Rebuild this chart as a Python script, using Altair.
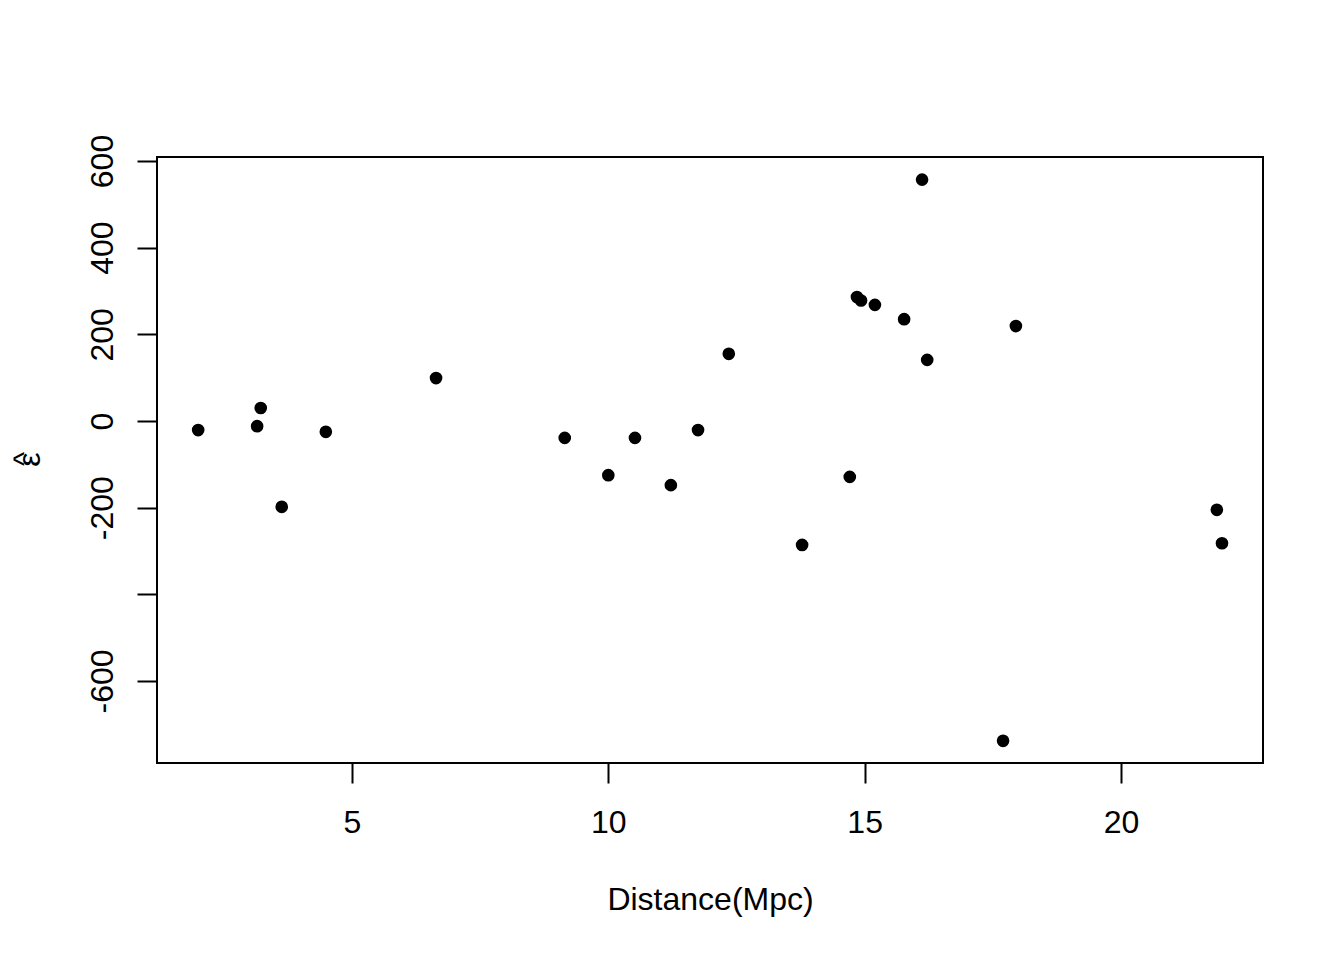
import altair as alt
import pandas as pd

distance = [2.00, 3.15, 3.22, 3.63, 4.49, 6.64, 9.15, 10.00, 10.52, 11.22, 11.75, 12.35,
            13.78, 14.71, 14.85, 14.93, 15.20, 15.77, 16.12, 16.22, 17.70, 17.95, 21.87, 21.97]
residual = [-21, -12, 30, -198, -25, 99, -39, -125, -39, -148, -21, 155,
            -286, -129, 286, 278, 268, 235, 557, 141, -738, 219, -205, -282]

x_ticks = [5, 10, 15, 20]
y_ticks = [-600, -400, -200, 0, 200, 400, 600]
hat_text = ["^"]

FONT = "Liberation Sans, Arial, Helvetica, sans-serif"

df = pd.DataFrame({"distance": distance, "residual": residual})

points = alt.Chart(df).mark_circle(size=160, color="black", opacity=1).encode(
    x=alt.X(
        "distance:Q",
        scale=alt.Scale(domain=[1.197, 22.77], nice=False, zero=False),
        axis=alt.Axis(
            values=x_ticks,
            title="Distance(Mpc)",
            labelFlush=False,
            labelOverlap=False,
            labelPadding=24,
            labelAlign="center",
            labelBaseline="top",
            titleX=553,
            titleY=146,
            titleAlign="center",
            titleBaseline="alphabetic",
        ),
    ),
    y=alt.Y(
        "residual:Q",
        scale=alt.Scale(domain=[-789.2, 609.2], nice=False, zero=False),
        axis=alt.Axis(
            values=y_ticks,
            title="ε",
            labelAngle=270,
            labelAlign="center",
            labelBaseline="middle",
            labelPadding=35,
            labelOverlap=False,
            labelFlush=False,
            labelExpr="datum.value == -400 ? '' : '' + datum.value",
            titleAngle=270,
            titleX=-118,
            titleY=302,
            titleAlign="center",
            titleBaseline="alphabetic",
        ),
    ),
)

hat = alt.Chart(pd.DataFrame({"t": hat_text})).mark_text(
    angle=270, font=FONT, fontSize=30, color="black",
    align="center", baseline="alphabetic",
).encode(
    text="t:N",
    x=alt.value(-123),
    y=alt.value(302),
)

chart = alt.layer(points, hat).properties(
    width=1106,
    height=606,
    autosize=alt.AutoSizeParams(type="none"),
    padding={"left": 149, "top": 149, "right": 73, "bottom": 189},
).configure(
    background="white"
).configure_view(
    stroke="black", strokeWidth=2, fill="white"
).configure_axis(
    domain=False,
    grid=False,
    ticks=True,
    tickSize=20,
    tickWidth=2,
    tickColor="black",
    labelFont=FONT,
    labelFontSize=32,
    labelColor="black",
    titleFont=FONT,
    titleFontSize=32,
    titleFontWeight="normal",
    titleColor="black",
)

chart.save("out.html", embed_options={"renderer": "svg", "actions": False})
